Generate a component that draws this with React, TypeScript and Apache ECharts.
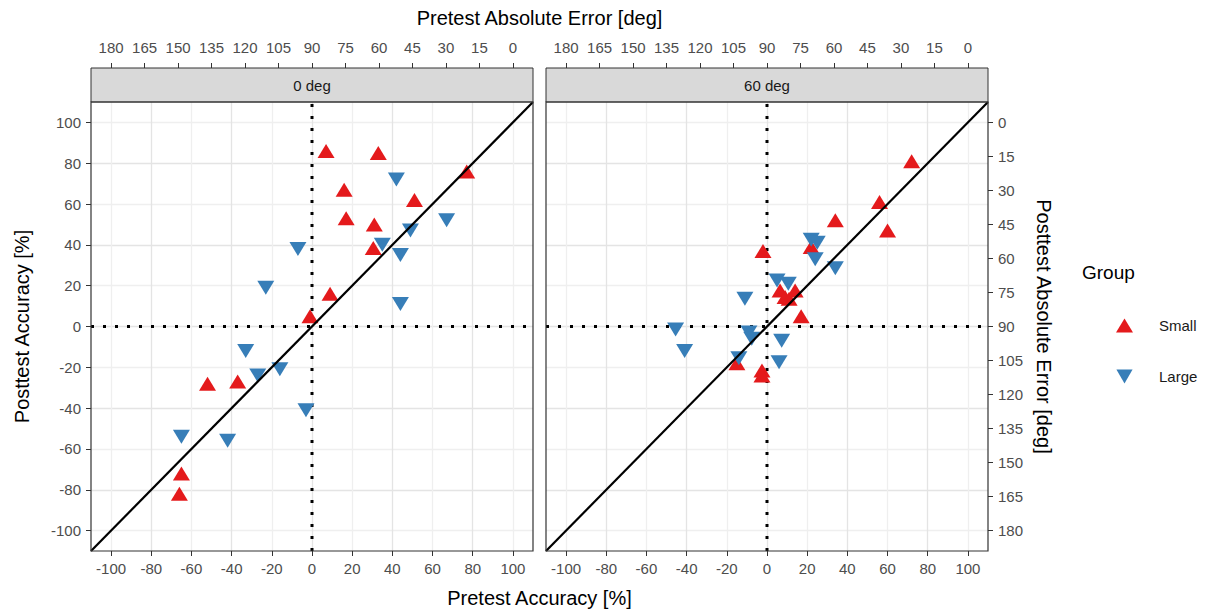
import React, { useEffect, useRef } from 'react';
import * as echarts from 'echarts';

// ---- data ----
const FACETS = ['0 deg', '60 deg'];
const GROUPS = ['Small', 'Large'];
const ACC_TICKS = [-100, -80, -60, -40, -20, 0, 20, 40, 60, 80, 100];
const ERR_TICKS = [0, 15, 30, 45, 60, 75, 90, 105, 120, 135, 150, 165, 180];
const ACC_MIN = -110;
const ACC_MAX = 110;

// [pretest accuracy, posttest accuracy]
const small0 = [
  [7, 86], [33, 85], [77, 76], [16, 67], [51, 62], [17, 53], [31, 50], [30.5, 38.5],
  [9, 16], [-1, 5], [-52, -28], [-37, -27], [-65, -72], [-66, -82],
];
const large0 = [
  [42, 72], [67, 52], [49, 47], [35, 40], [44, 35], [-7, 38], [-23, 19], [44, 11],
  [-33, -12], [-27, -24], [-16, -21], [-3, -41], [-65, -54], [-42, -56],
];
const small60 = [
  [72, 81], [56, 61], [34, 52], [60, 47], [22, 39], [-2, 37], [6.5, 17.6], [14, 17.6],
  [9, 14.4], [11, 13.6], [17, 5], [-15, -18], [-2.5, -21.6], [-2.5, -24],
];
const large60 = [
  [22, 42.5], [25, 41], [24, 33], [34, 28.5], [5, 22.5], [10.6, 21], [-11, 13.6],
  [-45.5, -1.5], [-9, -3], [-7.6, -6], [7.3, -7], [-41, -12], [-14, -15.5], [6, -17.5],
];

const diagonal = [[ACC_MIN, ACC_MIN], [ACC_MAX, ACC_MAX]];
const vRef = [[0, ACC_MIN], [0, ACC_MAX]];
const hRef = [[ACC_MIN, 0], [ACC_MAX, 0]];

const toErr = (a: number) => 90 - 0.9 * a;

const RED = '#E41A1C';
const BLUE = '#377EB8';
const FONT = "'Liberation Sans', Arial, Helvetica, sans-serif";
const DOWN_TRI = 'path://M0,0L20,0L10,17.32Z';

// layout
const GRIDS = [
  { left: 91, top: 102, width: 442, height: 449 },
  { left: 546, top: 102, width: 442, height: 449 },
];
const STRIP_H = 34;

export default function App() {
  const ref = useRef<HTMLDivElement>(null);
  useEffect(() => {
    if (!ref.current) return;
    const chart = echarts.init(ref.current, null, { renderer: 'svg' });

    const labelStyle = { color: '#4D4D4D', fontSize: 15, fontFamily: FONT };
    const tickStyle = { color: '#333333', width: 1 };
    const splitColors = ['#EFEFEF', '#E4E4E4'];

    const accAxis = (gridIndex: number, showLabels: boolean) => ({
      gridIndex,
      type: 'value',
      min: ACC_MIN,
      max: ACC_MAX,
      interval: 10,
      axisLine: { show: false, onZero: false },
      axisTick: { show: showLabels, customValues: ACC_TICKS, length: 5, lineStyle: tickStyle },
      axisLabel: { show: showLabels, customValues: ACC_TICKS, margin: 10, ...labelStyle },
      splitLine: { show: true, lineStyle: { color: splitColors, width: 1.3 } },
    });
    const errAxis = (gridIndex: number, position: string, offset: number, margin: number) => ({
      gridIndex,
      type: 'value',
      position,
      offset,
      min: toErr(ACC_MAX),
      max: toErr(ACC_MIN),
      inverse: true,
      axisLine: { show: false, onZero: false },
      axisTick: { show: true, customValues: ERR_TICKS, length: 5, lineStyle: tickStyle },
      axisLabel: { show: true, customValues: ERR_TICKS, margin, ...labelStyle },
      splitLine: { show: false },
    });

    const xAxis = [
      { ...accAxis(0, true), position: 'bottom' },
      errAxis(0, 'top', STRIP_H, 13),
      { ...accAxis(1, true), position: 'bottom' },
      errAxis(1, 'top', STRIP_H, 13),
    ];
    const yAxis = [
      { ...accAxis(0, true), position: 'left' },
      { ...accAxis(1, false), position: 'left' },
      errAxis(1, 'right', 0, 10),
    ];

    const sets = [
      [small0, large0],
      [small60, large60],
    ];
    const series: any[] = [];
    sets.forEach((pair, gi) => {
      const xi = gi === 0 ? 0 : 2;
      const yi = gi === 0 ? 0 : 1;
      [vRef, hRef].forEach((d) =>
        series.push({
          type: 'line',
          xAxisIndex: xi,
          yAxisIndex: yi,
          data: d,
          symbol: 'none',
          silent: true,
          z: 1,
          lineStyle: { color: '#000', width: 3, type: [3, 9], cap: 'butt' },
        })
      );
      pair.forEach((d, k) =>
        series.push({
          type: 'scatter',
          name: GROUPS[k],
          xAxisIndex: xi,
          yAxisIndex: yi,
          data: d,
          symbol: k === 0 ? 'triangle' : DOWN_TRI,
          symbolSize: [17, 14],
          itemStyle: { color: k === 0 ? RED : BLUE, opacity: 1 },
          z: 2 + k,
        })
      );
      series.push({
        type: 'line',
        xAxisIndex: xi,
        yAxisIndex: yi,
        data: diagonal,
        symbol: 'none',
        silent: true,
        z: 5,
        lineStyle: { color: '#000', width: 2.2 },
      });
    });

    const graphic: any[] = [];
    GRIDS.forEach((g, i) => {
      graphic.push({
        type: 'rect',
        shape: { x: g.left, y: g.top - STRIP_H, width: g.width, height: STRIP_H },
        style: { fill: '#D9D9D9', stroke: '#333333', lineWidth: 1 },
        z: 100,
      });
      graphic.push({
        type: 'text',
        x: g.left + g.width / 2,
        y: g.top - STRIP_H / 2,
        style: {
          text: FACETS[i], fontSize: 15, fontFamily: FONT, fill: '#1A1A1A',
          textAlign: 'center', textVerticalAlign: 'middle',
        },
        z: 101,
      });
      graphic.push({
        type: 'rect',
        shape: { x: g.left, y: g.top, width: g.width, height: g.height },
        style: { fill: 'none', stroke: '#333333', lineWidth: 1.2 },
        z: 100,
      });
    });
    const midX = (GRIDS[0].left + GRIDS[1].left + GRIDS[1].width) / 2;
    const midY = GRIDS[0].top + GRIDS[0].height / 2;
    const titleStyle = { fontSize: 20, fontFamily: FONT, fill: '#000', textAlign: 'center', textVerticalAlign: 'middle' };
    graphic.push({ type: 'text', x: midX, y: 18, style: { text: 'Pretest Absolute Error [deg]', ...titleStyle }, z: 100 });
    graphic.push({ type: 'text', x: midX, y: 598, style: { text: 'Pretest Accuracy [%]', ...titleStyle }, z: 100 });
    graphic.push({ type: 'text', x: 22, y: midY, rotation: Math.PI / 2, style: { text: 'Posttest Accuracy [%]', ...titleStyle }, z: 100 });
    graphic.push({ type: 'text', x: 1044, y: midY, rotation: -Math.PI / 2, style: { text: 'Posttest Absolute Error [deg]', ...titleStyle }, z: 100 });
    graphic.push({
      type: 'text', x: 1082, y: 272,
      style: { text: 'Group', fontSize: 19, fontFamily: FONT, fill: '#000', textAlign: 'left', textVerticalAlign: 'middle' },
      z: 100,
    });

    chart.setOption({
      animation: false,
      backgroundColor: '#fff',
      textStyle: { fontFamily: FONT },
      grid: GRIDS.map((g) => ({ ...g, show: false, containLabel: false })),
      xAxis,
      yAxis,
      legend: {
        orient: 'vertical',
        left: 1111,
        top: 313,
        itemWidth: 17,
        itemHeight: 14,
        itemGap: 36,
        data: [
          { name: 'Small', icon: 'triangle' },
          { name: 'Large', icon: DOWN_TRI },
        ],
        textStyle: { fontSize: 15, color: '#1A1A1A', fontFamily: FONT, padding: [0, 0, 0, 21] },
        selectedMode: false,
      },
      series,
      graphic,
    });
    return () => chart.dispose();
  }, []);
  return <div ref={ref} style={{ position: 'absolute', left: 0, top: 0, width: 1210, height: 615 }} />;
}
